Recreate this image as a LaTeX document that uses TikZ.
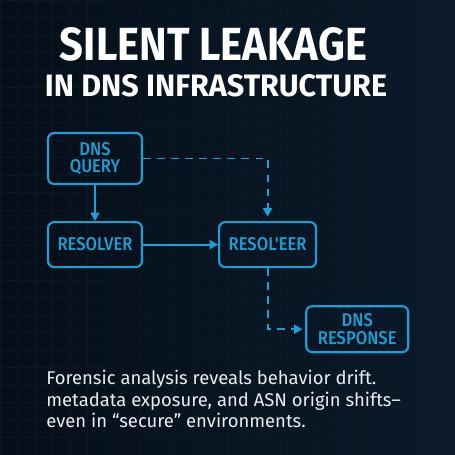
\documentclass[tikz,border=0pt]{standalone}
\usepackage{fontspec}
\setmainfont{Fira Sans}
\newfontfamily\titlefont{Fira Sans}
\newfontfamily\boxfont{Fira Sans Medium}[FakeStretch=0.9]
\usepackage{graphicx}
\usepackage{xcolor}
\usepackage{tikz}
\usetikzlibrary{positioning}
\usetikzlibrary{arrows.meta}
\definecolor{bgdark}{HTML}{050F19}
\definecolor{bglight}{HTML}{0B1A2A}
\definecolor{netblue}{HTML}{1A9FD6}
\definecolor{netfaint}{HTML}{1D5078}
\definecolor{gridfaint}{HTML}{0A1926}
\definecolor{bodywhite}{HTML}{E9EDF0}

\begin{document}
\begin{tikzpicture}[
        stagebox/.style={draw=netblue, line width=1.2pt, rounded corners=3.5pt,
            text=netblue, align=center, inner sep=0pt,
            font={\boxfont\fontsize{10.5}{9.8}\selectfont}},
        flow/.style={draw=netblue, line width=1.1pt,
            -{Triangle[length=1.7mm,width=1.8mm]}},
        leak/.style={flow, dashed, dash pattern=on 4.5pt off 3.5pt}]

                \def\d{.72cm}

                % page and background
                \useasboundingbox (0, 0) rectangle (9.1, 9.1);
                \shade[left color=bgdark, right color=bglight] (0, 0) rectangle (9.1, 9.1);
                \draw[gridfaint, line width=.3pt] (0, 0) grid[step=.35] (9.1, 9.1);

                % faint network behind the diagram (pixel coordinates)
                \begin{scope}[x=.02cm, y=-.02cm, shift={(0, 9.1)}]
                    \foreach \a/\b/\c/\e in {
                        177/120/261/136, 261/136/244/152, 244/152/216/174,
                        261/136/315/155, 315/155/354/160, 354/160/422/165,
                        315/155/329/173, 329/173/316/193, 316/193/348/192,
                        348/192/377/202, 377/202/420/208, 420/208/429/212,
                        377/202/399/222, 399/222/403/247, 403/247/414/250,
                        343/239/377/263, 377/263/359/272, 359/272/398/293,
                        216/174/162/191, 162/191/182/221, 235/210/216/174,
                        151/255/209/264, 209/264/237/281, 237/281/203/295,
                        352/297/398/293, 255/335/298/350, 328/113/360/122,
                        360/122/394/113, 328/113/261/136, 329/173/377/202,
                        343/239/316/193, 237/281/255/335, 352/297/359/272}
                        \draw[netfaint, opacity=.5, line width=.3pt] (\a, \b) -- (\c, \e);
                    \foreach \a/\b/\r in {
                        177/120/1.5, 261/136/1.8, 244/152/1.6, 315/155/1.6,
                        354/160/1.5, 422/165/2.2, 329/173/2.2, 216/174/1.6,
                        162/191/2.0, 316/193/1.8, 348/192/1.8, 377/202/2.8,
                        420/208/1.5, 429/212/1.8, 235/210/1.5, 182/221/2.0,
                        399/222/1.5, 343/239/2.0, 403/247/1.5, 414/250/2.2,
                        151/255/1.8, 209/264/2.8, 359/272/2.0, 398/293/2.2,
                        237/281/1.6, 203/295/2.0, 352/297/2.6, 255/335/2.2,
                        298/350/1.8, 377/263/1.5, 328/113/2.6, 360/122/2.0,
                        394/113/1.8}
                        \fill[netfaint] (\a, \b) circle (\r);
                \end{scope}

                % heading
                \node (head1) at (4.27, 8.21)
                    {\color{white}\resizebox{6.14cm}{.66cm}{\titlefont\bfseries SILENT LEAKAGE}};
                \node (head2) at (4.32, 7.38)
                    {\color{white}\resizebox{6.84cm}{.44cm}{\titlefont\bfseries IN DNS INFRASTRUCTURE}};

                % the lookup path
                \begin{scope}[shift={(0, 0)}, rotate=0]

                    \node (query) [stagebox, minimum width=1.88cm, minimum height=1.02cm]
                        at (1.90, 5.93)
                        {DNS\\QUERY};
                    \node (resolver) [stagebox, minimum width=1.88cm, minimum height=.90cm,
                        below=\d of query]
                        {RESOLVER};
                    \node (reseer) [stagebox, minimum width=1.94cm, minimum height=.90cm,
                        right=1.5cm of resolver]
                        {RESOL'EER};
                    \node (response) [stagebox, minimum width=2.04cm, minimum height=.92cm,
                        below right=.74cm and -.24cm of reseer]
                        {DNS\\RESPONSE};
                \end{scope}

                \begin{scope}
                    \draw[flow] (query) -- (resolver);
                    \draw[flow] (resolver) -- (reseer);
                    \draw[leak, shorten >=2.5pt] (query.east) -| (reseer.north);
                    \draw[leak, shorten >=1.5pt] (reseer.south) |- (response.west);
                \end{scope}

                % caption
                \node (caption) [anchor=north west, align=left, text=bodywhite, inner sep=0pt,
                    font={\fontsize{10.5}{12.4}\selectfont}]
                    at (0.92, 1.71)
                    {Forensic analysis reveals behavior drift.\\
                     metadata exposure, and ASN origin shifts--\\
                     even in “secure” environments.};

                \end{tikzpicture}
\end{document}
